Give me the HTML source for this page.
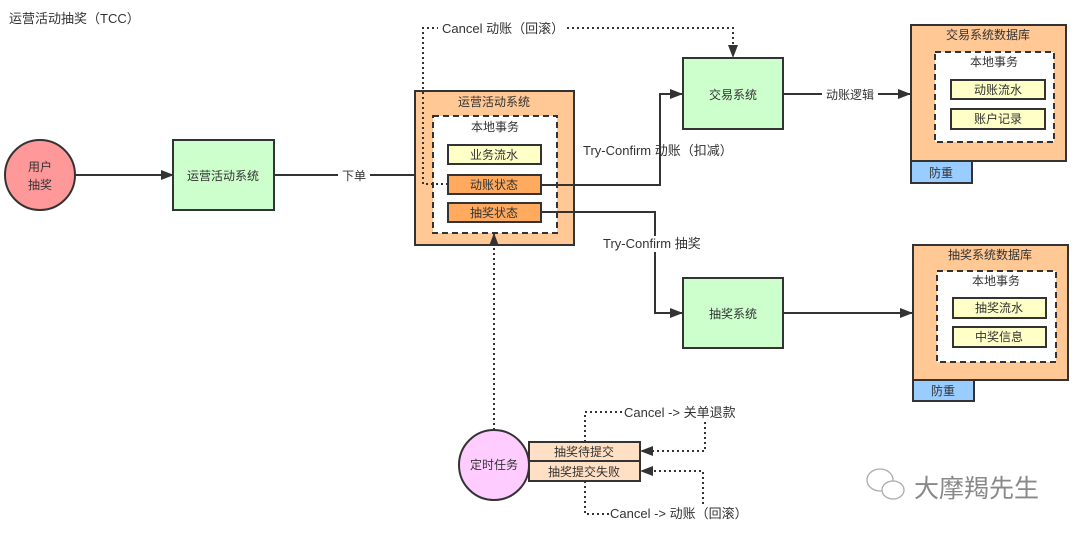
<!DOCTYPE html>
<html><head><meta charset="utf-8"><style>
html,body{margin:0;padding:0;background:#fff;}
svg text{font-family:"Liberation Sans","Noto Sans CJK SC",sans-serif;fill:#333;}
</style></head><body>
<svg width="1080" height="535" viewBox="0 0 1080 535" xmlns="http://www.w3.org/2000/svg">
<defs>
<marker id="a" markerWidth="13" markerHeight="10" refX="12" refY="5" orient="auto" markerUnits="userSpaceOnUse"><path d="M0,0 L13,5 L0,10 Z" fill="#333"/></marker>
</defs>
<text x="9" y="23" font-size="13">运营活动抽奖（TCC）</text>

<circle cx="40" cy="175" r="35" fill="#ff9999" stroke="#333" stroke-width="2"/>
<text x="40" y="171" font-size="12" text-anchor="middle">用户</text>
<text x="40" y="189" font-size="12" text-anchor="middle">抽奖</text>
<line x1="75" y1="175" x2="173" y2="175" stroke="#333" stroke-width="2" marker-end="url(#a)"/>
<rect x="173" y="140" width="101" height="70" fill="#ccffcc" stroke="#333" stroke-width="2"/>
<text x="223" y="180" font-size="12" text-anchor="middle">运营活动系统</text>
<line x1="274" y1="175" x2="432" y2="175" stroke="#333" stroke-width="2" marker-end="url(#a)"/>
<rect x="338" y="168" width="32" height="14" fill="#fff"/>
<text x="354" y="180" font-size="12" text-anchor="middle">下单</text>

<rect x="415" y="91" width="159" height="154" fill="#ffc894" stroke="#333" stroke-width="2"/>
<text x="494" y="106" font-size="12" text-anchor="middle">运营活动系统</text>
<rect x="433" y="116" width="124" height="117" fill="#fff" stroke="#333" stroke-width="2" stroke-dasharray="6,4"/>
<text x="495" y="131" font-size="12" text-anchor="middle">本地事务</text>
<rect x="448" y="145" width="93" height="19" fill="#ffffc8" stroke="#333" stroke-width="2"/>
<text x="494" y="159" font-size="12" text-anchor="middle">业务流水</text>
<rect x="448" y="175" width="93" height="19" fill="#ffaa5e" stroke="#333" stroke-width="2"/>
<text x="494" y="189" font-size="12" text-anchor="middle">动账状态</text>
<rect x="448" y="203" width="93" height="19" fill="#ffaa5e" stroke="#333" stroke-width="2"/>
<text x="494" y="217" font-size="12" text-anchor="middle">抽奖状态</text>

<polyline points="448,184 423,184 423,28 733,28 733,57" fill="none" stroke="#333" stroke-width="2" stroke-dasharray="2,3" marker-end="url(#a)"/>
<rect x="438" y="20" width="128" height="16" fill="#fff"/>
<text x="442" y="33" font-size="13">Cancel 动账（回滚）</text>

<polyline points="541,185 660,185 660,94 682,94" fill="none" stroke="#333" stroke-width="2" marker-end="url(#a)"/>
<text x="583" y="155" font-size="13">Try-Confirm 动账（扣减）</text>
<rect x="683" y="58" width="100" height="71" fill="#ccffcc" stroke="#333" stroke-width="2"/>
<text x="733" y="99" font-size="12" text-anchor="middle">交易系统</text>
<line x1="783" y1="94" x2="910" y2="94" stroke="#333" stroke-width="2" marker-end="url(#a)"/>
<rect x="822" y="86" width="56" height="16" fill="#fff"/>
<text x="850" y="99" font-size="12" text-anchor="middle">动账逻辑</text>

<polyline points="541,212 655,212 655,313 682,313" fill="none" stroke="#333" stroke-width="2" marker-end="url(#a)"/>
<rect x="602" y="236" width="108" height="16" fill="#fff"/>
<text x="603" y="248" font-size="13">Try-Confirm 抽奖</text>
<rect x="683" y="278" width="100" height="70" fill="#ccffcc" stroke="#333" stroke-width="2"/>
<text x="733" y="318" font-size="12" text-anchor="middle">抽奖系统</text>
<line x1="783" y1="313" x2="912" y2="313" stroke="#333" stroke-width="2" marker-end="url(#a)"/>

<rect x="911" y="25" width="155" height="136" fill="#ffc894" stroke="#333" stroke-width="2"/>
<text x="988" y="39" font-size="12" text-anchor="middle">交易系统数据库</text>
<rect x="935" y="52" width="119" height="90" fill="#fff" stroke="#333" stroke-width="2" stroke-dasharray="6,4"/>
<text x="994" y="66" font-size="12" text-anchor="middle">本地事务</text>
<rect x="951" y="80" width="94" height="19" fill="#ffffc8" stroke="#333" stroke-width="2"/>
<text x="998" y="94" font-size="12" text-anchor="middle">动账流水</text>
<rect x="951" y="109" width="94" height="20" fill="#ffffc8" stroke="#333" stroke-width="2"/>
<text x="998" y="123" font-size="12" text-anchor="middle">账户记录</text>
<rect x="911" y="161" width="61" height="22" fill="#99ccff" stroke="#333" stroke-width="2"/>
<text x="941" y="177" font-size="12" text-anchor="middle">防重</text>

<rect x="913" y="245" width="155" height="135" fill="#ffc894" stroke="#333" stroke-width="2"/>
<text x="990" y="259" font-size="12" text-anchor="middle">抽奖系统数据库</text>
<rect x="937" y="271" width="119" height="91" fill="#fff" stroke="#333" stroke-width="2" stroke-dasharray="6,4"/>
<text x="996" y="285" font-size="12" text-anchor="middle">本地事务</text>
<rect x="953" y="298" width="93" height="20" fill="#ffffc8" stroke="#333" stroke-width="2"/>
<text x="999" y="312" font-size="12" text-anchor="middle">抽奖流水</text>
<rect x="953" y="327" width="93" height="20" fill="#ffffc8" stroke="#333" stroke-width="2"/>
<text x="999" y="341" font-size="12" text-anchor="middle">中奖信息</text>
<rect x="913" y="380" width="61" height="21" fill="#99ccff" stroke="#333" stroke-width="2"/>
<text x="943" y="395" font-size="12" text-anchor="middle">防重</text>

<line x1="494" y1="430" x2="494" y2="234" stroke="#333" stroke-width="2" stroke-dasharray="2,3" marker-end="url(#a)"/>
<circle cx="494" cy="465" r="35" fill="#ffccff" stroke="#333" stroke-width="2"/>
<text x="494" y="469" font-size="12" text-anchor="middle">定时任务</text>
<rect x="529" y="442" width="111" height="19" fill="#ffe0c4" stroke="#333" stroke-width="2"/>
<text x="584" y="456" font-size="12" text-anchor="middle">抽奖待提交</text>
<rect x="529" y="461" width="111" height="20" fill="#ffe0c4" stroke="#333" stroke-width="2"/>
<text x="584" y="476" font-size="12" text-anchor="middle">抽奖提交失败</text>
<polyline points="585,442 585,412 705,412 705,451 641,451" fill="none" stroke="#333" stroke-width="2" stroke-dasharray="2,3" marker-end="url(#a)"/>
<rect x="622" y="405" width="120" height="16" fill="#fff"/>
<text x="624" y="417" font-size="13">Cancel -&gt; 关单退款</text>
<polyline points="703,504 703,471 641,471" fill="none" stroke="#333" stroke-width="2" stroke-dasharray="2,3" marker-end="url(#a)"/>
<polyline points="585,481 585,514 612,514" fill="none" stroke="#333" stroke-width="2" stroke-dasharray="2,3"/>
<text x="610" y="518" font-size="13" fill="#666">Cancel -&gt; 动账（回滚）</text>

<g fill="none" stroke="#aaa" stroke-width="1.3">
<ellipse cx="880" cy="480" rx="13" ry="11"/>
<ellipse cx="893" cy="490" rx="11" ry="9" fill="#fff"/>
</g>
<text x="914" y="497" font-size="25" style="fill:#888">大摩羯先生</text>
</svg>
</body></html>
